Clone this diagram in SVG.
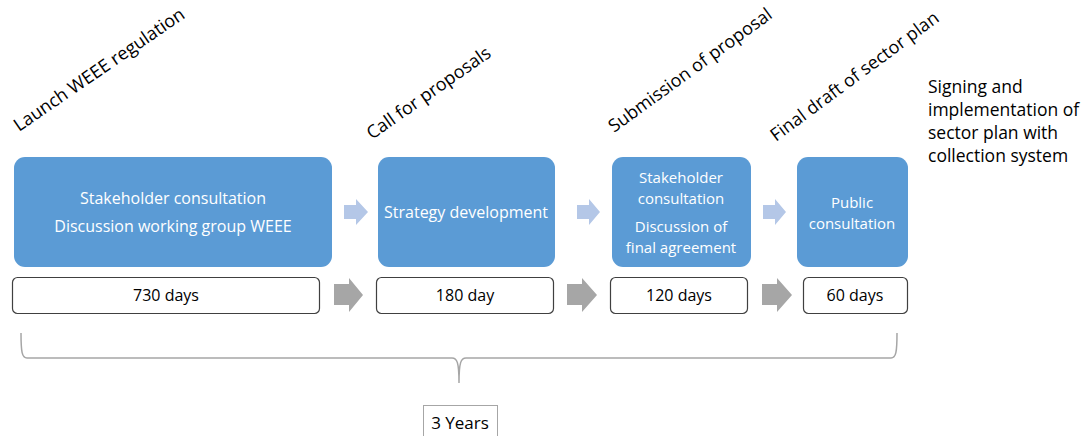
<svg xmlns="http://www.w3.org/2000/svg" width="1087" height="436" viewBox="0 0 1087 436">
<style>
text{font-family:"Open Sans","Liberation Sans",sans-serif;}
.blue{fill:#5b9bd5;}
.bt{fill:#ffffff;font-size:16px;text-anchor:middle;}
.bs{fill:#ffffff;font-size:15px;text-anchor:middle;}
.wb{fill:#ffffff;stroke:#404040;stroke-width:1.2;}
.wt{fill:#000000;font-size:16px;text-anchor:middle;}
.rot{fill:#000000;font-size:18px;}
.sg{fill:#000000;font-size:17.5px;}
.lt{fill:#b4c7e7;}
.gr{fill:#a6a6a6;}
.brace{fill:none;stroke:#a6a6a6;stroke-width:1.5;}
</style>
<g id="milestones">
<text class="rot" transform="translate(19,132) rotate(-34.5)">Launch WEEE regulation</text>
<text class="rot" transform="translate(372,140) rotate(-35)">Call for proposals</text>
<text class="rot" transform="translate(614,133) rotate(-36)">Submission of proposal</text>
<text class="rot" transform="translate(776,142) rotate(-36.5)">Final draft of sector plan</text>
</g>
<g id="final-step">
<text class="sg" x="928" y="93">Signing and</text>
<text class="sg" x="928" y="116">implementation of</text>
<text class="sg" x="928" y="139">sector plan with</text>
<text class="sg" x="928" y="162">collection system</text>
</g>
<g id="phase1">
<rect class="blue" x="14" y="157" width="318" height="110" rx="11"/>
<text class="bt" x="173" y="204">Stakeholder consultation</text>
<text class="bt" x="173" y="232">Discussion working group WEEE</text>
</g>
<g id="phase2">
<rect class="blue" x="378" y="157" width="177" height="110" rx="11"/>
<text class="bt" x="466" y="218">Strategy development</text>
</g>
<g id="phase3">
<rect class="blue" x="612" y="157" width="139" height="110" rx="11"/>
<text class="bs" x="681" y="183">Stakeholder</text>
<text class="bs" x="681" y="204">consultation</text>
<text class="bs" x="681" y="232">Discussion of</text>
<text class="bs" x="681" y="253">final agreement</text>
</g>
<g id="phase4">
<rect class="blue" x="797" y="157" width="111" height="110" rx="11"/>
<text class="bs" x="852" y="208">Public</text>
<text class="bs" x="852" y="229">consultation</text>
</g>
<g id="duration1">
<rect class="wb" x="12.5" y="277.5" width="307" height="36" rx="5"/>
<text class="wt" x="166" y="301">730 days</text>
</g>
<g id="duration2">
<rect class="wb" x="376.5" y="277.5" width="177" height="36" rx="5"/>
<text class="wt" x="465" y="301">180 day</text>
</g>
<g id="duration3">
<rect class="wb" x="610.5" y="277.5" width="137" height="36" rx="5"/>
<text class="wt" x="679" y="301">120 days</text>
</g>
<g id="duration4">
<rect class="wb" x="803.5" y="277.5" width="104" height="36" rx="5"/>
<text class="wt" x="855" y="301">60 days</text>
</g>
<g id="connectors">
<polygon class="lt" points="344,205 356,205 356,199 368,212 356,225 356,219 344,219"/>
<polygon class="lt" points="577,205 589,205 589,199 600,212 589,225 589,219 577,219"/>
<polygon class="lt" points="763,205 775,205 775,199 786,212 775,225 775,219 763,219"/>
<polygon class="gr" points="334,284 349,284 349,278 363,295 349,312 349,305 334,305"/>
<polygon class="gr" points="567,284 582,284 582,278 597,295 582,312 582,305 567,305"/>
<polygon class="gr" points="762,284 777,284 777,278 792,295 777,312 777,305 762,305"/>
</g>
<g id="total">
<path class="brace" d="M21,333 C21,352 22,358 27,358 L452,358 C457,358 459,362 459,383 C459,362 461,358 466,358 L891,358 C896,358 897,352 897,333"/>
<rect x="423.5" y="405.5" width="74" height="40" fill="#ffffff" stroke="#a6a6a6" stroke-width="1"/>
<text font-size="17" x="460" y="429" text-anchor="middle">3 Years</text>
</g>
</svg>
